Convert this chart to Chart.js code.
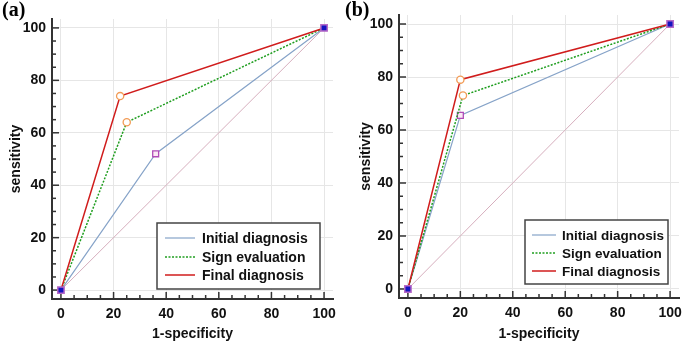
<!DOCTYPE html>
<html lang="en">
<head>
<meta charset="UTF-8">
<title>ROC curves (a) and (b)</title>
<script src="https://cdn.jsdelivr.net/npm/chart.js"></script>
<style>
  body { margin: 0; background: #fff; }
  .panel { position: absolute; top: 0; }
</style>
</head>
<body>
<div class="panel" style="left:0"><canvas id="chartA" width="340" height="344"></canvas></div>
<div class="panel" style="left:340px"><canvas id="chartB" width="345" height="344"></canvas></div>
<script>
// ---- data ----
const seriesNames = ['Initial diagnosis', 'Sign evaluation', 'Final diagnosis'];
const chanceX = [0, 100];
const chanceY = [0, 100];

// panel (a)
const aInitialX = [0, 36, 100];
const aInitialY = [0, 52, 100];
const aSignX = [0, 25, 100];
const aSignY = [0, 64, 100];
const aFinalX = [0, 22.5, 100];
const aFinalY = [0, 74, 100];

// panel (b)
const bInitialX = [0, 20, 100];
const bInitialY = [0, 65.5, 100];
const bSignX = [0, 21, 100];
const bSignY = [0, 73, 100];
const bFinalX = [0, 20, 100];
const bFinalY = [0, 79, 100];

const majorTicks = [0, 20, 40, 60, 80, 100];
const minorTicks = [];
for (let v = 0; v <= 100; v += 5) minorTicks.push(v);

const colors = {
    initial: '#86a3c8',
    sign: '#1f9e1f',
    final: '#d01c1c',
    chance: '#d6aebd',
    grid: '#e6e6e6',
    axis: '#333333'
};

const pts = (xs, ys) => xs.map((x, i) => ({ x: x, y: ys[i] }));

// inward tick marks, drawn under the data
const tickPlugin = {
    id: 'inTicks',
    beforeDatasetsDraw(chart) {
        const { ctx, chartArea: a, scales: { x, y } } = chart;
        ctx.save();
        ctx.strokeStyle = colors.axis;
        ctx.lineWidth = 1.5;
        minorTicks.forEach(v => {
            const len = v % 20 === 0 ? 7 : 4;
            const px = x.getPixelForValue(v);
            ctx.beginPath(); ctx.moveTo(px, a.bottom); ctx.lineTo(px, a.bottom - len); ctx.stroke();
            const py = y.getPixelForValue(v);
            ctx.beginPath(); ctx.moveTo(a.left, py); ctx.lineTo(a.left + len, py); ctx.stroke();
        });
        ctx.restore();
    }
};

// boxed legend + panel letter
const boxPlugin = {
    id: 'boxLegend',
    afterDraw(chart, args, opts) {
        const ctx = chart.ctx;
        const L = opts.box;
        ctx.save();
        ctx.fillStyle = '#fff';
        ctx.fillRect(L.x, L.y, L.w, L.h);
        ctx.strokeStyle = '#444';
        ctx.lineWidth = 1.5;
        ctx.strokeRect(L.x, L.y, L.w, L.h);
        const styles = [
            { c: colors.initial, dash: [], w: 1.2 },
            { c: colors.sign, dash: [2, 1.5], w: 1.5 },
            { c: colors.final, dash: [], w: 1.5 }
        ];
        ctx.font = 'bold ' + L.font + 'px "Liberation Sans", Arial, sans-serif';
        ctx.textBaseline = 'middle';
        seriesNames.forEach((name, i) => {
            const ry = L.rows[i];
            ctx.strokeStyle = styles[i].c;
            ctx.lineWidth = styles[i].w;
            ctx.setLineDash(styles[i].dash);
            ctx.beginPath(); ctx.moveTo(L.sx0, ry); ctx.lineTo(L.sx1, ry); ctx.stroke();
            ctx.setLineDash([]);
            ctx.fillStyle = '#111';
            ctx.fillText(name, L.tx, ry + 1);
        });
        ctx.font = 'bold 20px "Liberation Serif", "Times New Roman", serif';
        ctx.textBaseline = 'alphabetic';
        ctx.fillStyle = '#000';
        ctx.fillText(opts.label, opts.labelX, 16);
        ctx.restore();
    }
};

function makeChart(id, d, lay) {
    const lineSet = (label, xs, ys, color, dash, width, style, border, fill) => ({
        label: label,
        data: pts(xs, ys),
        borderColor: color,
        borderWidth: width,
        borderDash: dash,
        showLine: true,
        pointStyle: style,
        pointRadius: c => (c.dataIndex === 1 ? (style === 'rect' ? 4.2 : 3.6) : 0),
        pointBackgroundColor: fill,
        pointBorderColor: border,
        pointBorderWidth: 1.3
    });
    const fitX = s => { s.height = lay.xHeight; s.paddingLeft = 0; s.paddingRight = 0; };
    const fitY = s => { s.width = lay.yWidth; s.paddingTop = 0; s.paddingBottom = 0; };
    const axis = (title, titlePad, tickPad, fit) => ({
        type: 'linear',
        min: -3.4,
        max: 103.4,
        afterBuildTicks: s => { s.ticks = minorTicks.map(v => ({ value: v })); },
        afterFit: fit,
        ticks: {
            autoSkip: false,
            maxRotation: 0,
            padding: tickPad,
            color: '#111',
            font: { family: '"Liberation Sans", Arial, sans-serif', size: 14, weight: 'bold' },
            callback: v => (majorTicks.includes(v) ? v : '')
        },
        grid: {
            drawTicks: false,
            color: c => (c.tick && majorTicks.includes(c.tick.value) ? colors.grid : 'rgba(0,0,0,0)'),
            lineWidth: 1
        },
        border: { display: true, color: colors.axis, width: 2 },
        title: {
            display: true,
            text: title,
            color: '#111',
            padding: titlePad,
            font: { family: '"Liberation Sans", Arial, sans-serif', size: 14, weight: 'bold' }
        }
    });
    return new Chart(document.getElementById(id), {
        type: 'scatter',
        data: {
            datasets: [
                {
                    label: 'ends',
                    data: pts(chanceX, chanceY),
                    showLine: false,
                    pointStyle: 'rect',
                    pointRadius: 4.5,
                    pointBackgroundColor: '#1414c0',
                    pointBorderColor: '#b86ac8',
                    pointBorderWidth: 1.5
                },
                lineSet(seriesNames[2], d.finalX, d.finalY, colors.final, [], 1.5, 'circle', '#f29b55', '#fff'),
                lineSet(seriesNames[1], d.signX, d.signY, colors.sign, [2, 1.5], 1.5, 'circle', '#f29b55', '#fff'),
                lineSet(seriesNames[0], d.initialX, d.initialY, colors.initial, [], 1.2, 'rect', '#b04cb8', '#fbe8f4'),
                {
                    label: 'chance',
                    data: pts(chanceX, chanceY),
                    showLine: true,
                    borderColor: colors.chance,
                    borderWidth: 1,
                    pointRadius: 0
                }
            ]
        },
        options: {
            responsive: false,
            animation: false,
            layout: { padding: { left: 0, top: lay.padTop, right: lay.padRight, bottom: 0 } },
            scales: {
                x: axis('1-specificity', { top: 0, bottom: lay.xTitlePad }, 7, fitX),
                y: axis('sensitivity', { top: lay.yTitlePad, bottom: 0 }, 6, fitY)
            },
            plugins: {
                legend: { display: false },
                tooltip: { enabled: false },
                boxLegend: { box: lay.legend, label: lay.label, labelX: lay.labelX }
            }
        },
        plugins: [tickPlugin, boxPlugin]
    });
}

makeChart('chartA',
    { initialX: aInitialX, initialY: aInitialY, signX: aSignX, signY: aSignY, finalX: aFinalX, finalY: aFinalY },
    {
        padTop: 19, padRight: 7, yWidth: 52, xHeight: 45, yTitlePad: 8, xTitlePad: 1,
        legend: { x: 157, y: 223, w: 163, h: 66, sx0: 165, sx1: 195, tx: 202, rows: [238, 257, 275], font: 14 },
        label: '(a)', labelX: 2
    });

makeChart('chartB',
    { initialX: bInitialX, initialY: bInitialY, signX: bSignX, signY: bSignY, finalX: bFinalX, finalY: bFinalY },
    {
        padTop: 15, padRight: 3, yWidth: 59, xHeight: 46, yTitlePad: 17.5, xTitlePad: 1.5,
        legend: { x: 185, y: 220, w: 143, h: 64, sx0: 192, sx1: 216, tx: 222, rows: [235, 253, 271], font: 13.5 },
        label: '(b)', labelX: 5
    });
</script>
</body>
</html>
